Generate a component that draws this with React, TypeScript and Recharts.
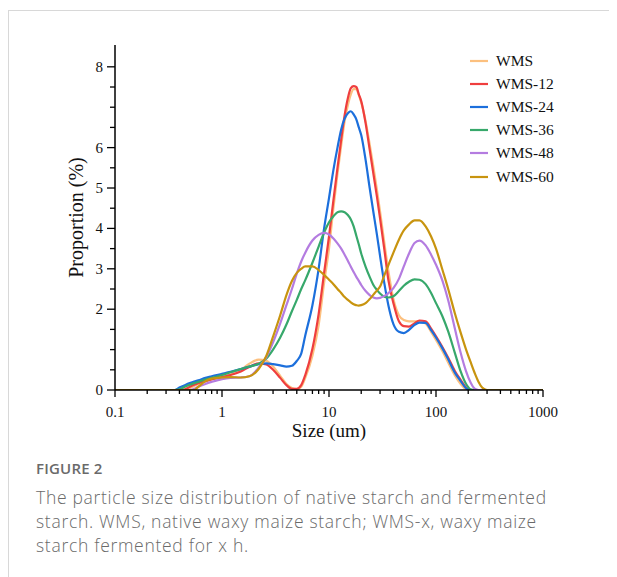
import React from "react";
import { LineChart, Line, XAxis, YAxis, Legend } from "recharts";

// particle size (um), log axis
const sizes = [
  0.1, 0.3, 0.36, 0.4, 0.45, 0.5, 0.55, 0.6, 0.7, 0.8,
  1, 1.2, 1.5, 1.8, 2.2, 2.6, 3, 3.5, 4, 4.5,
  5, 5.5, 6, 7, 8, 9, 10, 11, 12, 13,
  14, 15, 16, 17, 18, 19, 20, 22, 24, 26,
  28, 30, 33, 36, 40, 45, 50, 56, 63, 70,
  80, 90, 100, 115, 130, 150, 170, 190, 210, 230,
  250, 270, 300, 400, 1000,
];

const wms = [
  0, 0, 0, 0, 0, 0.05, 0.1, 0.15, 0.21, 0.26,
  0.33, 0.38, 0.5, 0.65, 0.75, 0.72, 0.58, 0.35, 0.15, 0.05,
  0.02, 0.08, 0.3, 0.85, 1.6, 2.65, 3.5, 4.5, 5.35, 6.05,
  6.65, 7.05, 7.32, 7.45, 7.45, 7.3, 7.12, 6.65, 6.08, 5.52,
  4.97, 4.42, 3.62, 2.92, 2.25, 1.85, 1.73, 1.7, 1.7, 1.7,
  1.64, 1.44, 1.24, 0.96, 0.68, 0.36, 0.15, 0.02, 0, 0,
  0, 0, 0, 0, 0,
];

const wms12 = [
  0, 0, 0, 0, 0.02, 0.08, 0.13, 0.17, 0.22, 0.26,
  0.32, 0.37, 0.46, 0.57, 0.66, 0.63, 0.5, 0.3, 0.12, 0.03,
  0.03, 0.12, 0.37, 1.02, 1.88, 2.9, 3.8, 4.7, 5.5, 6.2,
  6.8, 7.22, 7.47, 7.52, 7.5, 7.32, 7.15, 6.6, 5.95, 5.35,
  4.8, 4.25, 3.45, 2.7, 2.15, 1.7, 1.58, 1.57, 1.65, 1.72,
  1.7, 1.52, 1.33, 1.06, 0.8, 0.47, 0.25, 0.07, 0, 0,
  0, 0, 0, 0, 0,
];

const wms24 = [
  0, 0, 0, 0.06, 0.12, 0.17, 0.21, 0.24, 0.3, 0.34,
  0.4, 0.45, 0.52, 0.58, 0.64, 0.66, 0.64, 0.61, 0.58, 0.6,
  0.72, 0.9, 1.35, 2.1, 3.0, 4.0, 4.75, 5.45, 6.0, 6.45,
  6.72, 6.85, 6.9, 6.82, 6.7, 6.5, 6.31, 5.69, 5.0, 4.4,
  3.86, 3.32, 2.62, 2.08, 1.63, 1.44, 1.41, 1.49, 1.61, 1.67,
  1.66, 1.48, 1.3, 1.03, 0.76, 0.43, 0.22, 0.05, 0, 0,
  0, 0, 0, 0, 0,
];

const wms36 = [
  0, 0, 0, 0.02, 0.08, 0.13, 0.17, 0.2, 0.26, 0.3,
  0.37, 0.44, 0.52, 0.58, 0.65, 0.78, 1.0, 1.3, 1.62, 1.95,
  2.23, 2.5, 2.72, 3.15, 3.55, 3.9, 4.15, 4.3, 4.4, 4.42,
  4.4, 4.33, 4.22, 4.05, 3.82, 3.6, 3.38, 3.05, 2.8, 2.6,
  2.48, 2.39, 2.31, 2.29, 2.32, 2.45, 2.58, 2.68, 2.74, 2.73,
  2.62, 2.4, 2.15, 1.82, 1.45, 0.92, 0.46, 0.16, 0.02, 0,
  0, 0, 0, 0, 0,
];

const wms48 = [
  0, 0, 0, 0, 0, 0, 0.03, 0.08, 0.15, 0.2,
  0.27, 0.3, 0.31, 0.34, 0.55, 0.82, 1.18, 1.65, 2.1, 2.5,
  2.88, 3.18, 3.4, 3.7, 3.84, 3.89, 3.85, 3.75, 3.63, 3.5,
  3.35, 3.2, 3.05, 2.92, 2.8, 2.7, 2.6, 2.45, 2.35, 2.29,
  2.27, 2.28, 2.33, 2.4, 2.52, 2.75, 3.06, 3.38, 3.64, 3.7,
  3.58, 3.35, 3.1, 2.7, 2.22, 1.52, 0.92, 0.48, 0.19, 0.03,
  0, 0, 0, 0, 0,
];

const wms60 = [
  0, 0, 0, 0, 0, 0, 0, 0.08, 0.22, 0.28,
  0.31, 0.32, 0.31, 0.34, 0.52, 0.85, 1.32, 1.85, 2.35, 2.7,
  2.9, 3.0, 3.06, 3.06, 2.97, 2.85, 2.73, 2.62, 2.5, 2.4,
  2.3, 2.23, 2.17, 2.12, 2.1, 2.09, 2.1, 2.15, 2.25, 2.36,
  2.46, 2.56, 2.85, 3.1, 3.4, 3.72, 3.95, 4.1, 4.2, 4.2,
  4.05, 3.8, 3.5, 2.97, 2.5, 1.9, 1.42, 1.02, 0.7, 0.42,
  0.2, 0.06, 0, 0, 0,
];

const series = [
  { key: "WMS", values: wms, color: "#fcc07f" },
  { key: "WMS-12", values: wms12, color: "#ef3e3e" },
  { key: "WMS-24", values: wms24, color: "#1c6fdc" },
  { key: "WMS-36", values: wms36, color: "#37a86b" },
  { key: "WMS-48", values: wms48, color: "#b47ce0" },
  { key: "WMS-60", values: wms60, color: "#c8940f" },
];

const xDecades = [0.1, 1, 10, 100, 1000];
const xDecadeLabels = ["0.1", "1", "10", "100", "1000"];
const yTicks = [0, 0.5, 1, 1.5, 2, 2.5, 3, 3.5, 4, 4.5, 5, 5.5, 6, 6.5, 7, 7.5, 8];
const yLabelled = [0, 2, 3, 4, 5, 6, 8];

const captionLines = [
  "The particle size distribution of native starch and fermented",
  "starch. WMS, native waxy maize starch; WMS-x, waxy maize",
  "starch fermented for x h.",
];

const xTicks: number[] = [];
xDecades.forEach((d, i) => {
  if (i === xDecades.length - 1) {
    xTicks.push(d);
    return;
  }
  for (let m = 1; m <= 9; m++) xTicks.push(+(d * m).toPrecision(3));
});

const data = sizes.map((s, i) => {
  const row: Record<string, number> = { size: s };
  series.forEach((sr) => {
    row[sr.key] = sr.values[i];
  });
  return row;
});

const serif = "'Liberation Serif', 'Times New Roman', serif";
const sans = "'Open Sans', 'Noto Sans', sans-serif";

const XTick = (props: any) => {
  const { x, y, payload } = props;
  const idx = xDecades.findIndex((d) => Math.abs(d - payload.value) < 1e-9);
  const major = idx >= 0;
  return (
    <g>
      <line x1={x} y1={y} x2={x} y2={y + (major ? 7 : 4)} stroke="#000" strokeWidth={1.3} />
      {major && (
        <text x={x} y={y + 27} textAnchor="middle" fontFamily={serif} fontSize={15} fill="#111">
          {xDecadeLabels[idx]}
        </text>
      )}
    </g>
  );
};

const YTick = (props: any) => {
  const { x, y, payload } = props;
  const labelled = yLabelled.includes(payload.value);
  return (
    <g>
      <line x1={x - (labelled ? 8 : 5)} y1={y} x2={x} y2={y} stroke="#000" strokeWidth={1.3} />
      {labelled && (
        <text x={x - 12} y={y + 5} textAnchor="end" fontFamily={serif} fontSize={15} fill="#111">
          {payload.value}
        </text>
      )}
    </g>
  );
};

const LegendBox = () => (
  <div style={{ fontFamily: serif, fontSize: 15.5, color: "#111" }}>
    {series.map((s) => (
      <div key={s.key} style={{ display: "flex", alignItems: "center", height: 23.2 }}>
        <svg width={20} height={4} style={{ marginRight: 6 }}>
          <line x1={0} y1={2} x2={18} y2={2} stroke={s.color} strokeWidth={2.2} />
        </svg>
        <span>{s.key}</span>
      </div>
    ))}
  </div>
);

export default function App() {
  return (
    <div style={{ position: "relative", width: 609, height: 569 }}>
      <div
        style={{
          position: "absolute",
          left: 0,
          top: 2,
          width: 609,
          height: 567,
          borderTop: "1px solid #d8d8d8",
          borderLeft: "1px solid #d8d8d8",
        }}
      />
      <div style={{ position: "absolute", left: 0, top: 0 }}>
        <LineChart
          width={600}
          height={440}
          data={data}
          margin={{ top: 37, right: 65, left: 0, bottom: 0 }}
        >
          <XAxis
            dataKey="size"
            type="number"
            scale="log"
            domain={[0.1, 1000]}
            allowDataOverflow
            ticks={xTicks}
            interval={0}
            height={58}
            tickLine={false}
            tickSize={0}
            tickMargin={0}
            tick={<XTick />}
            axisLine={{ stroke: "#000", strokeWidth: 1.5 }}
            label={{
              value: "Size (um)",
              position: "insideBottom",
              offset: 11,
              style: { fontFamily: serif, fontSize: 19, fill: "#111" },
            }}
          />
          <YAxis
            type="number"
            domain={[0, 8.54]}
            allowDataOverflow
            ticks={yTicks}
            interval={0}
            width={107}
            tickLine={false}
            tickSize={0}
            tickMargin={0}
            tick={<YTick />}
            axisLine={{ stroke: "#000", strokeWidth: 1.5 }}
            label={{
              value: "Proportion (%)",
              angle: -90,
              position: "center",
              dx: 14,
              style: { fontFamily: serif, fontSize: 20, fill: "#111" },
            }}
          />
          <Legend
            layout="vertical"
            align="center"
            verticalAlign="middle"
            content={() => <LegendBox />}
            wrapperStyle={{ position: "absolute", left: 462, top: 41, width: 110 }}
          />
          {series.map((s) => (
            <Line
              key={s.key}
              dataKey={s.key}
              type="monotone"
              stroke={s.color}
              strokeWidth={2.2}
              dot={false}
              activeDot={false}
              isAnimationActive={false}
            />
          ))}
        </LineChart>
      </div>
      <div
        style={{
          position: "absolute",
          left: 28,
          top: 450,
          fontFamily: sans,
          fontSize: 15,
          fontWeight: 600,
          lineHeight: "20px",
          color: "#6a6a6a",
          letterSpacing: 0.2,
        }}
      >
        FIGURE 2
      </div>
      <div
        style={{
          position: "absolute",
          left: 28,
          top: 477,
          fontFamily: sans,
          fontSize: 17.5,
          fontWeight: 300,
          lineHeight: "24px",
          letterSpacing: 0.7,
          color: "#6a6a6a",
          whiteSpace: "nowrap",
        }}
      >
        {captionLines.map((l) => (
          <div key={l}>{l}</div>
        ))}
      </div>
    </div>
  );
}
